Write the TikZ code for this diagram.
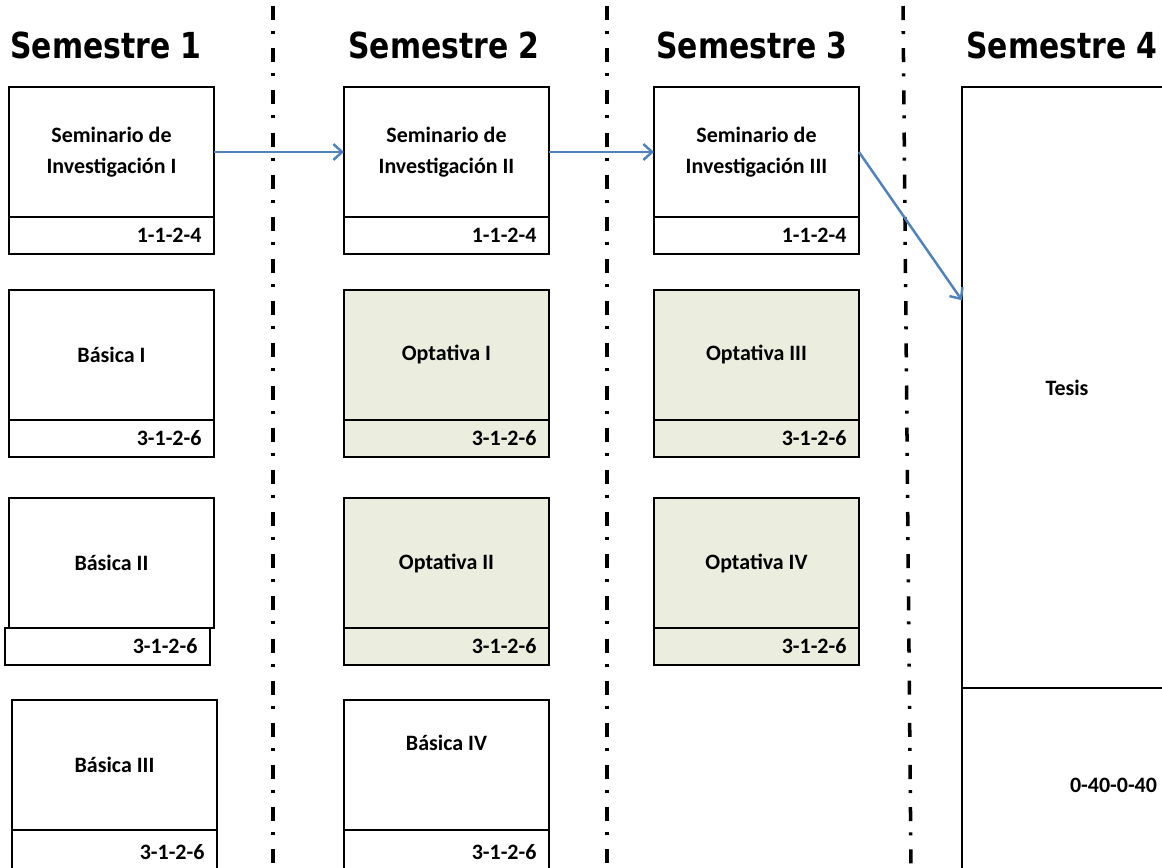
\documentclass[tikz,border=0pt]{standalone}
\usepackage{fontspec}
\setmainfont{Carlito}
\newfontfamily\headfont{DejaVu Sans}
\usetikzlibrary{arrows.meta,calc}
\definecolor{optgreen}{RGB}{235,238,222}
\definecolor{linkblue}{RGB}{79,129,189}

\begin{document}
\begin{tikzpicture}[
      x=0.02cm, y=-0.02cm,
      course/.style={draw=black, line width=1pt, minimum width=4.1cm, minimum height=2.6cm, outer sep=0pt,
        anchor=north west, align=center, inner sep=0pt, font=\bfseries\fontsize{12.5}{17.5}\selectfont},
      credits/.style={draw=black, line width=1pt, minimum width=4.1cm, minimum height=0.74cm, outer sep=0pt,
        anchor=north, align=right, text width=3.6cm, inner sep=0pt, font=\bfseries\fontsize{12.5}{14}\selectfont},
      elective/.style={fill=optgreen},
      semtitle/.style={font=\headfont\bfseries\fontsize{17}{20}\selectfont},
      link/.style={draw=linkblue, line width=1.4pt, -{Straight Barb[length=5pt,width=9pt]}},
      border/.style={line width=2pt, dash pattern=on 8pt off 6.3pt on 1.7pt off 8pt}
    ]
    \useasboundingbox (0,0) rectangle (1162,867);

    % Semester titles
    \node[semtitle] (t1) at (106,45) {\scalebox{1}[1.2]{Semestre 1}};
    \node[semtitle] (t2) at (444,45) {\scalebox{1}[1.2]{Semestre 2}};
    \node[semtitle] (t3) at (752,45) {\scalebox{1}[1.2]{Semestre 3}};
    \node[semtitle] (t4) at (1062,45) {\scalebox{1}[1.2]{Semestre 4}};

    % Dividing lines between semesters
    \draw[border] (273,6) -- (273,867);
    \draw[border] (607,6) -- (607,867);
    \draw[border] (903,6) -- (911,867);

    % Semester 1
    \node[course] (sem1) at (9,87) {Seminario de\\Investigación I};
    \node[credits] (sem1cr) at (sem1.south) {1-1-2-4};
    \node[course] (bas1) at (9,290) {Básica I};
    \node[credits] (bas1cr) at (bas1.south) {3-1-2-6};
    \node[course] (bas2) at (9,498) {Básica II};
    \node[credits, xshift=-0.08cm] (bas2cr) at (bas2.south) {3-1-2-6};
    \node[course] (bas3) at (12,700) {Básica III};
    \node[credits, minimum height=0.9cm] (bas3cr) at (bas3.south) {3-1-2-6};

    % Semester 2
    \node[course] (sem2) at (344,87) {Seminario de\\Investigación II};
    \node[credits] (sem2cr) at (sem2.south) {1-1-2-4};
    \node[course, elective] (opt1) at (344,290) {Optativa I};
    \node[credits, elective] (opt1cr) at (opt1.south) {3-1-2-6};
    \node[course, elective] (opt2) at (344,498) {Optativa II};
    \node[credits, elective] (opt2cr) at (opt2.south) {3-1-2-6};
    \node[course] (bas4) at (344,700) {\raisebox{0.9cm}{Básica IV}};
    \node[credits, minimum height=0.9cm] (bas4cr) at (bas4.south) {3-1-2-6};

    % Semester 3
    \node[course] (sem3) at (654,87) {Seminario de\\Investigación III};
    \node[credits] (sem3cr) at (sem3.south) {1-1-2-4};
    \node[course, elective] (opt3) at (654,290) {Optativa III};
    \node[credits, elective] (opt3cr) at (opt3.south) {3-1-2-6};
    \node[course, elective] (opt4) at (654,498) {Optativa IV};
    \node[credits, elective] (opt4cr) at (opt4.south) {3-1-2-6};

    % Semester 4
    \node[course, minimum width=4.2cm, minimum height=12.02cm] (tesis) at (962,87) {Tesis};
    \node[credits, minimum width=4.2cm, minimum height=3.9cm] (tesiscr) at (tesis.south) {0-40-0-40};

    % Research seminar sequence
    \draw[link] (sem1.east) -- (sem2.west);
    \draw[link] (sem2.east) -- (sem3.west);
    \draw[link] (sem3.east) -- ($(tesis.north west)!0.355!(tesis.south west)$);
  \end{tikzpicture}
\end{document}
